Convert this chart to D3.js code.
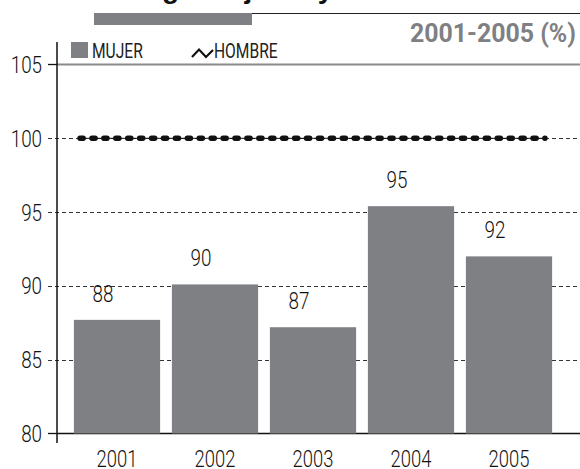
<!DOCTYPE html>
<html><head><meta charset="utf-8">
<script src="https://cdn.jsdelivr.net/npm/d3@7"></script>
<style>
html,body{margin:0;padding:0;background:#fff;}
text{font-family:Roboto,"Liberation Sans",sans-serif;font-weight:300;}
</style></head>
<body><svg id="c" width="580" height="469"></svg>
<script>
const years = ["2001","2002","2003","2004","2005"];
const mujer = [87.7, 90.1, 87.2, 95.4, 92.0];
const mujerLabels = ["88","90","87","95","92"];
const hombre = [100, 100, 100, 100, 100];
const yTicks = [80, 85, 90, 95, 100, 105];
const gridTicks = [85, 90, 95, 100];
const titleText = "Índice de carga mujeres y hombres";
const subtitleText = "2001-2005 (%)";
const legendLabels = ["MUJER", "HOMBRE"];

const barColor = "#7f8084";
const SX = 0.8;
const svg = d3.select("#c");

const y = d3.scaleLinear().domain([80,105]).range([433.5,64.5]);
const x = d3.scaleBand().domain(years).range([68,558]).paddingInner(0.12).paddingOuter(0.06);
const hx = d3.scalePoint().domain(years).range([80,545]);
const axisX = 57;
const place = (px,py) => `translate(${px},${py}) scale(${SX},1)`;

// top decoration: cut-off title
const t = svg.append("text").attr("x",0).attr("y",-2.5).attr("font-size",28)
  .style("font-weight","bold").style("font-family","'Liberation Sans',sans-serif")
  .attr("fill","#111").text(titleText);
const gi = titleText.indexOf("g");
const off = t.node().getSubStringLength(0, gi);
t.attr("x", 162 - off);
svg.append("line").attr("x1",94).attr("x2",580).attr("y1",13.5).attr("y2",13.5).attr("stroke","#222").attr("stroke-width",1);
svg.append("rect").attr("x",94).attr("y",13).attr("width",158).attr("height",12).attr("fill",barColor);

svg.append("text").attr("x",576).attr("y",42).attr("text-anchor","end")
  .attr("font-size",26).style("font-weight","bold").attr("fill",barColor)
  .attr("textLength",166).attr("lengthAdjust","spacingAndGlyphs").text(subtitleText);

// gridlines
svg.append("g").selectAll("line").data(gridTicks).join("line")
  .attr("x1",48).attr("x2",580).attr("y1",d=>Math.round(y(d))+0.5).attr("y2",d=>Math.round(y(d))+0.5)
  .attr("stroke","#333").attr("stroke-width",1).attr("stroke-dasharray","4,3");

// 105 line
svg.append("line").attr("x1",axisX).attr("x2",580).attr("y1",y(105)).attr("y2",y(105))
  .attr("stroke","#8a8a8c").attr("stroke-width",2);
// baseline
svg.append("line").attr("x1",axisX).attr("x2",580).attr("y1",y(80)).attr("y2",y(80))
  .attr("stroke","#111").attr("stroke-width",1.5);
// end ticks
svg.append("g").selectAll("line").data([80,105]).join("line")
  .attr("x1",48).attr("x2",axisX).attr("y1",d=>y(d)).attr("y2",d=>y(d))
  .attr("stroke","#111").attr("stroke-width",1.3);

// bars
svg.append("g").selectAll("rect").data(years).join("rect")
  .attr("x",d=>x(d)).attr("width",x.bandwidth())
  .attr("y",(d,i)=>y(mujer[i])).attr("height",(d,i)=>y(80)-y(mujer[i]))
  .attr("fill",barColor);

// y axis line
svg.append("line").attr("x1",axisX).attr("x2",axisX).attr("y1",42).attr("y2",443)
  .attr("stroke","#111").attr("stroke-width",1.5);

// y tick labels
svg.append("g").selectAll("text").data(yTicks).join("text")
  .attr("transform",d=>place(42, y(d)+8.5)).attr("text-anchor","end")
  .attr("font-size",23.5).attr("fill","#111").text(d=>d);

// hombre line
const line = d3.line().x((d,i)=>hx(years[i])).y(d=>y(d));
svg.append("path").attr("d",line(hombre)).attr("fill","none").attr("stroke","#111").attr("stroke-width",1);
svg.append("path").attr("d",line(hombre)).attr("fill","none").attr("stroke","#111")
  .attr("stroke-width",5.4).attr("stroke-linecap","round").attr("stroke-dasharray","3.2,8.72");

// value labels
svg.append("g").selectAll("text").data(years).join("text")
  .attr("transform",(d,i)=>place(x(d)+x.bandwidth()/2-14, y(mujer[i])-18))
  .attr("text-anchor","middle").attr("font-size",23.5).attr("fill","#111")
  .text((d,i)=>mujerLabels[i]);

// year labels
svg.append("g").selectAll("text").data(years).join("text")
  .attr("transform",d=>place(x(d)+x.bandwidth()/2, 467))
  .attr("text-anchor","middle").attr("font-size",23).attr("fill","#111").text(d=>d);

// legend
svg.append("rect").attr("x",71).attr("y",42).attr("width",17).attr("height",16).attr("fill",barColor);
svg.append("text").attr("transform",place(92,57.5)).attr("font-size",19.5).style("font-weight",400).attr("fill","#222").text(legendLabels[0]);
svg.append("path").attr("d","M192,57L199,49.5L206,57L213,50").attr("fill","none").attr("stroke","#111").attr("stroke-width",2.2);
svg.append("text").attr("transform",place(214,57.5)).attr("font-size",19.5).style("font-weight",400).attr("fill","#222").text(legendLabels[1]);
</script></body></html>
